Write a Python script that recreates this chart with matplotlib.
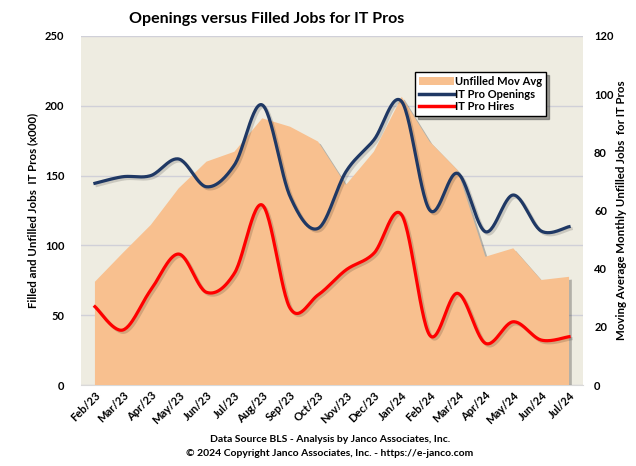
import numpy as np
import matplotlib as mpl
mpl.use("Agg")
import matplotlib.pyplot as plt
import matplotlib.patheffects as pe
from matplotlib.patches import Patch
from matplotlib.lines import Line2D

months = ['Feb/23', 'Mar/23', 'Apr/23', 'May/23', 'Jun/23', 'Jul/23',
          'Aug/23', 'Sep/23', 'Oct/23', 'Nov/23', 'Dec/23', 'Jan/24',
          'Feb/24', 'Mar/24', 'Apr/24', 'May/24', 'Jun/24', 'Jul/24']
unfilled_mov_avg = [35.5, 45.4, 55, 67.6, 76.8, 80.2, 91.7, 88.8, 83.7,
                    68.8, 80.2, 99.1, 83.7, 73.9, 44.1, 47.0, 36.1, 37.2]
openings = [144.5, 149.2, 150, 161.9, 142, 157.6, 200.6, 134.9, 112.2,
            152.8, 175.5, 203, 125.4, 151.6, 109.8, 136.1, 110.3, 113.4]
hires = [56.1, 39.4, 68, 93.8, 66.4, 80, 128.9, 54.9, 64.5,
         82.4, 94.3, 121.8, 35.8, 65.7, 29.9, 45.3, 32.2, 34.6]

plt.rcParams['font.family'] = ['Lato', 'DejaVu Sans']
plt.rcParams['font.weight'] = 'bold'

AREA = '#F8C08F'
NAVY = '#1F3864'
RED = '#FF0000'


def smooth(y, n=30):
    # excel-style smoothed line: bezier through points, catmull-rom handles
    y = np.asarray(y, float)
    x = np.arange(len(y), dtype=float)
    px = np.concatenate([[x[0]], x, [x[-1]]])
    py = np.concatenate([[y[0]], y, [y[-1]]])
    xs, ys = [], []
    t = np.linspace(0, 1, n)
    for i in range(len(y) - 1):
        p0 = np.array([px[i + 1], py[i + 1]])
        p3 = np.array([px[i + 2], py[i + 2]])
        c1 = p0 + (np.array([px[i + 2], py[i + 2]]) - np.array([px[i], py[i]])) / 6
        c2 = p3 - (np.array([px[i + 3], py[i + 3]]) - np.array([px[i + 1], py[i + 1]])) / 6
        b = ((1 - t) ** 3)[:, None] * p0 + (3 * (1 - t) ** 2 * t)[:, None] * c1 \
            + (3 * (1 - t) * t ** 2)[:, None] * c2 + (t ** 3)[:, None] * p3
        xs.append(b[:, 0])
        ys.append(b[:, 1])
    return np.concatenate(xs), np.concatenate(ys)


fig = plt.figure(figsize=(6.36, 4.66), dpi=100)
ax = fig.add_axes([81 / 636, 1 - 385 / 466, 502 / 636, 349 / 466])
ax2 = ax.twinx()
ax.set_facecolor('#EEECE1')

x = np.arange(len(months))
shadow = [pe.SimplePatchShadow(offset=(2, -2), shadow_rgbFace='k', alpha=0.25), pe.Normal()]
ax2.fill_between(x, unfilled_mov_avg, 0, color=AREA, lw=0, zorder=1,
                 path_effects=shadow)

# lines on their own axes so they sit over the area
lshadow = [pe.SimpleLineShadow(offset=(1.5, -1.5), alpha=0.15), pe.Normal()]
ax3 = ax.figure.add_axes(ax.get_position(), sharex=ax, frameon=False)
sx, sy = smooth(openings)
ax3.plot(sx, sy, color=NAVY, lw=2.3, path_effects=lshadow)
sx, sy = smooth(hires)
ax3.plot(sx, sy, color=RED, lw=2.3, path_effects=lshadow)
ax3.set_ylim(0, 250)
ax3.axis('off')

ax.set_xlim(-0.5, len(months) - 0.5)
ax.set_ylim(0, 250)
ax.set_yticks(range(0, 251, 50))
ax2.set_ylim(0, 120)
ax2.set_yticks(range(0, 121, 20))
ax.grid(axis='y', color='#D0D0D8', lw=1)
ax.set_axisbelow(True)
for a in (ax, ax2):
    for s in a.spines.values():
        s.set_visible(False)
ax.spines['bottom'].set_visible(True)
ax.spines['bottom'].set_color('#D9D9D9')

ax.set_xticks(x)
ax.set_xticklabels(months, rotation=45, ha='right', rotation_mode='anchor',
                   fontsize=8)
ax.tick_params(axis='both', length=0, labelsize=8)
ax.tick_params(axis='y', pad=12)
ax2.tick_params(axis='y', length=0, labelsize=8, pad=8)

ax.set_ylabel('Filled and Unfilled Jobs  IT Pros (x000)', fontsize=8.3,
              fontweight='bold')
ax.yaxis.set_label_coords(-0.085, 0.5)
ax2.set_ylabel('Moving Average Monthly Unfilled Jobs  for IT Pros',
               fontsize=8.3, fontweight='bold', labelpad=2)

fig.text(267 / 636, 1 - 19 / 466, 'Openings versus Filled Jobs for IT Pros',
         ha='center', va='center', fontsize=11.5, fontweight='bold')
fig.text(330 / 636, 1 - 440 / 466,
         'Data Source BLS - Analysis by Janco Associates, Inc.',
         ha='center', va='center', fontsize=7.5, fontweight='bold')
fig.text(330 / 636, 1 - 454 / 466,
         '\u00a9 2024 Copyright Janco Associates, Inc. - https://e-janco.com',
         ha='center', va='center', fontsize=7.5, fontweight='bold')

handles = [Patch(facecolor=AREA, edgecolor='none'),
           Line2D([], [], color=NAVY, lw=2.5),
           Line2D([], [], color=RED, lw=2.5)]
leg = ax3.legend(handles, ['Unfilled Mov Avg', 'IT Pro Openings', 'IT Pro Hires'],
                 loc='upper left', bbox_to_anchor=(0.665, 0.897),
                 fontsize=8, frameon=True, fancybox=False, shadow=True,
                 borderpad=0.35, labelspacing=0.15, handlelength=3.2,
                 handletextpad=0.1, borderaxespad=0)
leg.get_frame().set_edgecolor('black')
leg.get_frame().set_linewidth(1)

fig.savefig('out.png', dpi=100)
